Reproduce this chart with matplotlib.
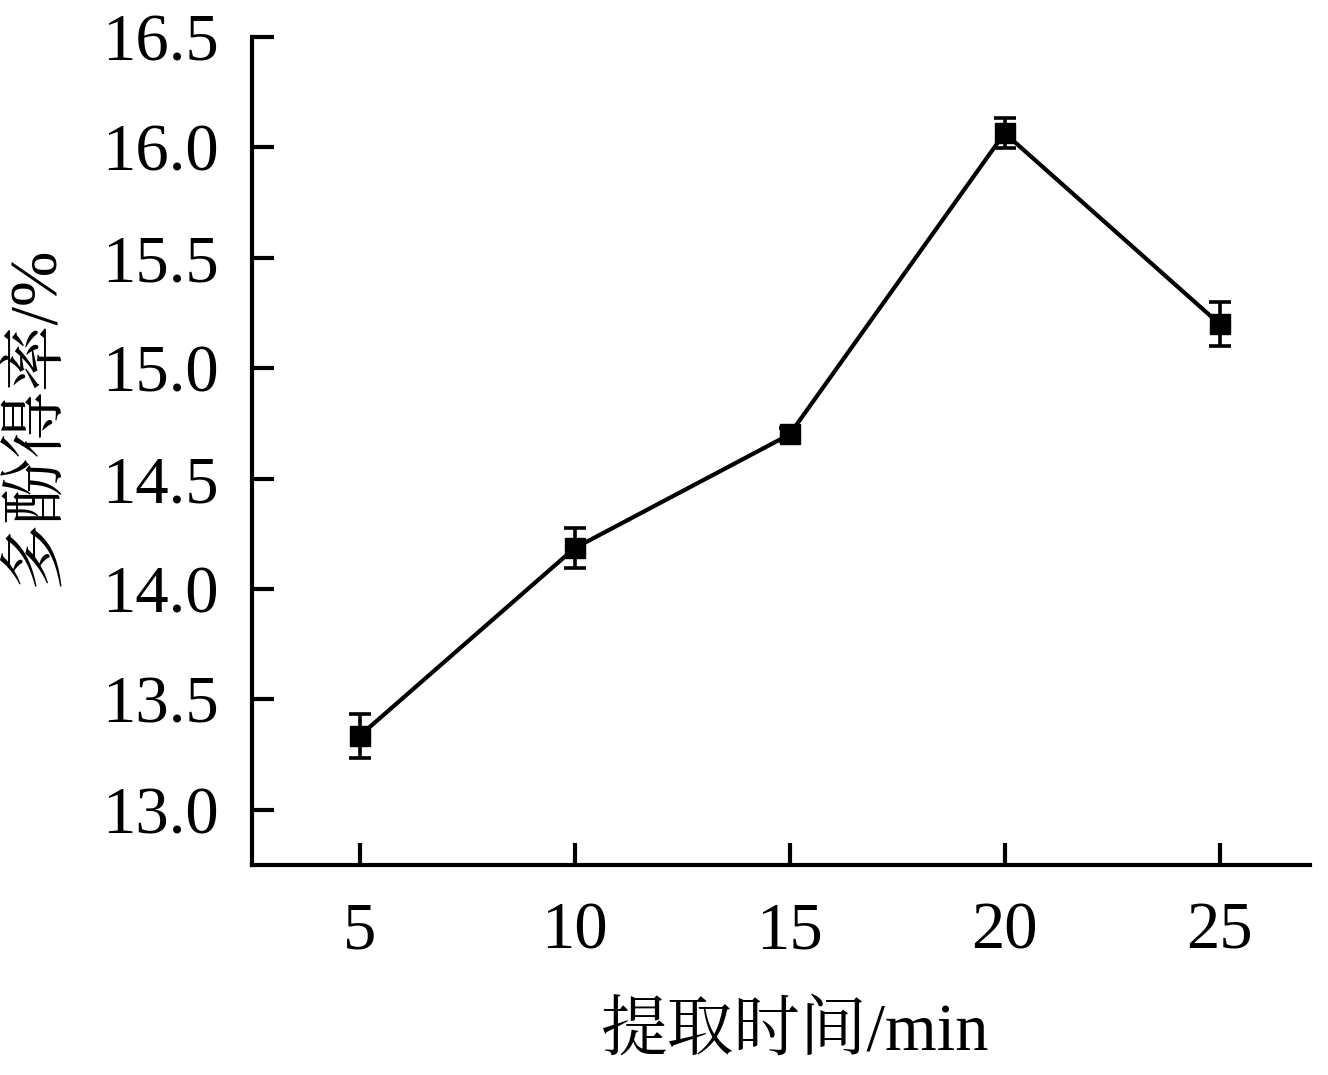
import matplotlib
matplotlib.use("Agg")
import matplotlib.pyplot as plt

x = [5, 10, 15, 20, 25]
y = [13.335, 14.185, 14.70, 16.065, 15.20]
err = [0.10, 0.09, 0.03, 0.07, 0.10]
xticks = [5, 10, 15, 20, 25]
yticks = [13.0, 13.5, 14.0, 14.5, 15.0, 15.5, 16.0, 16.5]
xlabel = "提取时间/min"
ylabel = "多酚得率/%"

fam = ['Liberation Serif', 'Noto Serif CJK SC', 'Noto Sans CJK SC']
plt.rcParams['font.family'] = fam

fig = plt.figure(figsize=(13.28, 10.75), dpi=100)
ax = fig.add_axes([0.1898, 0.1953, 0.9864 - 0.1898, 0.9656 - 0.1953])

ax.errorbar(x, y, yerr=err, color='black', lw=3.0, marker='s', ms=15,
            elinewidth=2.6, capsize=8, capthick=2.6)

ax.set_xlim(2.5, 27.1)
ax.set_ylim(12.75, 16.5)
ax.set_xticks(xticks)
ax.set_xticklabels([str(v) for v in xticks])
ax.set_yticks(yticks)
ax.set_yticklabels([f"{v:.1f}" for v in yticks])

for s in ['top', 'right']:
    ax.spines[s].set_visible(False)
for s in ['left', 'bottom']:
    ax.spines[s].set_linewidth(3)

ax.tick_params(direction='in', length=16, width=3, labelsize=48)
ax.tick_params(axis='x', pad=26)
ax.tick_params(axis='y', pad=24)

ax.set_xlabel(xlabel, fontsize=48)
ax.set_ylabel(ylabel, fontsize=48)
ax.xaxis.set_label_coords(0.513, -0.165)
ax.yaxis.set_label_coords(-0.175, 0.543)

fig.savefig("out.png", dpi=100)
